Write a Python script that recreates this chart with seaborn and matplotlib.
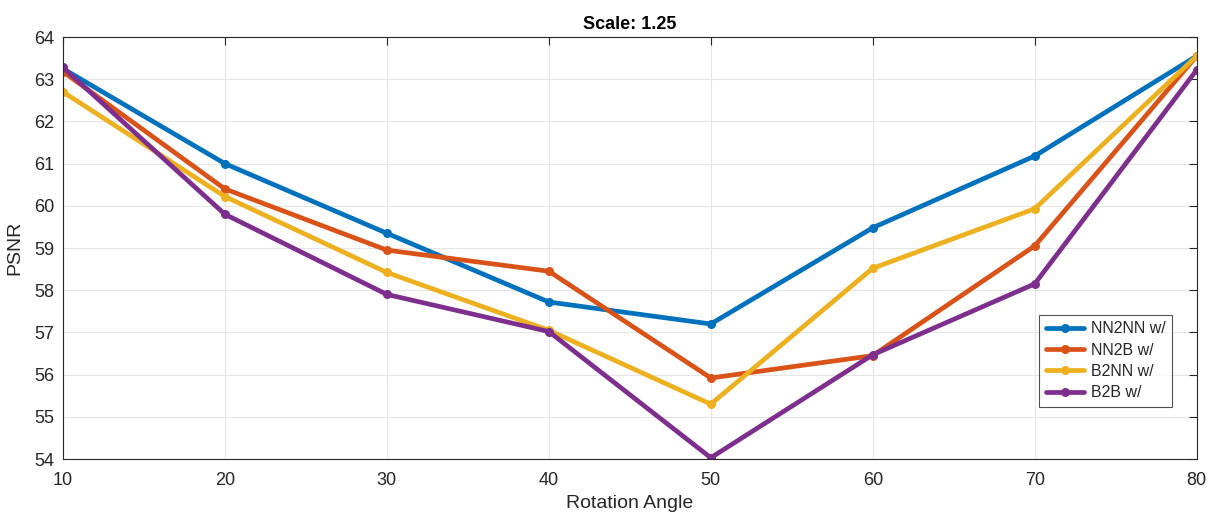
import matplotlib.pyplot as plt
import pandas as pd
import seaborn as sns

angles = [10, 20, 30, 40, 50, 60, 70, 80]
nn2nn = [63.25, 61.00, 59.35, 57.72, 57.20, 59.48, 61.18, 63.55]
nn2b = [63.18, 60.40, 58.95, 58.45, 55.92, 56.45, 59.05, 63.55]
b2nn = [62.70, 60.22, 58.42, 57.05, 55.30, 58.52, 59.93, 63.55]
b2b = [63.28, 59.80, 57.90, 57.02, 54.03, 56.47, 58.15, 63.22]
series_names = ["NN2NN w/", "NN2B w/", "B2NN w/", "B2B w/"]
colors = ["#0072BD", "#D95319", "#EDB120", "#7E2F8E"]

rows = []
for name, vals in zip(series_names, [nn2nn, nn2b, b2nn, b2b]):
    for a, v in zip(angles, vals):
        rows.append([a, v, name])
df = pd.DataFrame(rows, columns=["angle", "psnr", "method"])

sns.set_style("white")
plt.rcParams["font.family"] = ["Liberation Sans", "DejaVu Sans"]

fig = plt.figure(figsize=(12.1, 5.14), dpi=100)
ax = fig.add_axes([0.052, 0.107, 0.937, 0.821])

g = sns.lineplot(data=df, x="angle", y="psnr", hue="method", hue_order=series_names,
                 palette=colors, marker="o", markersize=6.5, markeredgewidth=0,
                 linewidth=3.4, ax=ax)

ax.set_xlim(10, 80)
ax.set_ylim(54, 64)
ax.set_xticks(angles)
ax.set_yticks(range(54, 65))
ax.grid(True, color="#e6e6e6", linewidth=0.8)
ax.set_axisbelow(True)
for s in ax.spines.values():
    s.set_color("#262626")
    s.set_linewidth(0.8)
ax.tick_params(direction="in", top=True, right=True, length=6, width=0.8,
               colors="#262626", labelsize=13)
ax.tick_params(axis="x", pad=9)
ax.tick_params(axis="y", pad=6)
ax.set_xlabel("Rotation Angle", fontsize=14, color="#262626", labelpad=5)
ax.set_ylabel("PSNR", fontsize=14, color="#262626", labelpad=8)
ax.set_title("Scale: 1.25", fontsize=13, fontweight="bold", color="#000000", pad=6)

leg = ax.legend(loc="lower right", bbox_to_anchor=(0.985, 0.105), fontsize=11.5,
                frameon=True, fancybox=False, edgecolor="#262626",
                handlelength=2.4, borderpad=0.4, labelspacing=0.4, handletextpad=0.4)
leg.get_frame().set_linewidth(0.8)

fig.savefig("out.png", dpi=100)
